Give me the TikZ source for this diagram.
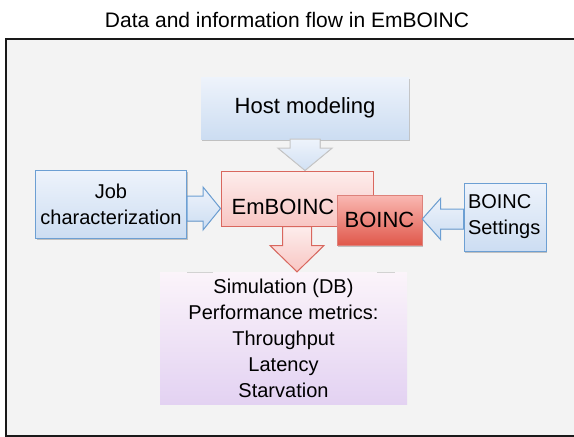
\documentclass[tikz,border=0pt]{standalone}
\usepackage{fontspec}
\setmainfont{Liberation Sans}
\usetikzlibrary{positioning, calc, shadows}
\usepackage{xcolor}

\definecolor{framebg}{HTML}{F3F3F3}
\definecolor{blueline}{HTML}{6C9FD3}
\definecolor{bluetop}{HTML}{EEF3FB}
\definecolor{bluebot}{HTML}{CCDDF2}
\definecolor{pinkline}{HTML}{D9675E}
\definecolor{pinktop}{HTML}{FDEDEC}
\definecolor{pinkbot}{HTML}{F8C6C3}
\definecolor{redtop}{HTML}{FAB9B3}
\definecolor{redbot}{HTML}{E0584B}
\definecolor{redline}{HTML}{CF4D42}
\definecolor{simtop}{HTML}{FBF4FA}
\definecolor{simbot}{HTML}{E3D2F2}

\newcommand{\flowtxt}{\fontsize{20}{26}\selectfont}
\newcommand{\flowbig}{\fontsize{22}{26}\selectfont}

\tikzset{
    softshadow/.style={drop shadow={shadow xshift=1pt, shadow yshift=-1.5pt, opacity=0.3, fill=black!70}},
    hostbox/.style={top color=bluetop, bottom color=bluebot, inner sep=0pt, softshadow},
    bluebox/.style={draw=blueline, line width=1pt, top color=bluetop, bottom color=bluebot, inner sep=0pt, softshadow},
    embox/.style={draw=pinkline, line width=1pt, top color=pinktop, bottom color=pinkbot, inner sep=0pt},
    redbox/.style={draw=redline!70, line width=0.6pt, top color=redtop, bottom color=redbot, inner sep=0pt, softshadow},
    simbox/.style={top color=simtop, bottom color=simbot, inner sep=0pt},
    bluearrow/.style={draw=blueline, line width=1pt, top color=bluetop, bottom color=bluebot},
    hostarrow/.style={draw=gray!45, line width=1pt, top color=bluetop, bottom color=bluebot!90},
    pinkarrow/.style={draw=pinkline, line width=1pt, top color=pinktop, bottom color=pinkbot},
}

\begin{document}
\begin{tikzpicture}[x=1pt, y=-1pt]
    \useasboundingbox (0,0) rectangle (574,437);

    % Title
    \node[anchor=base, font=\fontsize{21}{24}\selectfont] (title) at (287,27) {Data and information flow in EmBOINC};

    % Frame
    \filldraw[fill=framebg, draw=black!90, line width=2pt] (5.5,39) rectangle (582,435.5);

    % Boxes
    \node[hostbox, minimum width=208pt, minimum height=62pt, font=\flowbig] (host) at (305,108) {Host modeling};
    \node[bluebox, minimum width=151pt, minimum height=68pt, align=center, font=\flowtxt] (job) at (111,204) {Job\\characterization};
    \node[embox, minimum width=152pt, minimum height=55pt] (emb) at (297,198.5) {};
    \node[font=\flowbig] (embtxt) at ($(emb.center)+(-14,8.5)$) {EmBOINC};
    \node[redbox, minimum width=85pt, minimum height=50pt, font=\flowbig] (boinc) at (379.5,220) {BOINC};
    \node[bluebox, minimum width=82pt, minimum height=68pt, text width=74pt, align=left, font=\flowtxt] (set) at (505,217) {BOINC\\Settings};
    \node[simbox, minimum width=247pt, minimum height=132pt, align=center, font=\flowtxt] (sim) at (283.5,338)
        {Simulation (DB)\\Performance metrics:\\Throughput\\Latency\\Starvation};

    % faint edges on top of the results box
    \draw[gray!35, line width=1pt] (187,272) -- (213,272);
    \draw[gray!35, line width=1pt] (377,272) -- (395,272);

    % Host modeling -> EmBOINC
    \filldraw[hostarrow] ($(host.south)+(-15,0)$) -- ++(0,9) -- ++(-12,0) -- (host.south |- emb.north)
        -- ($(host.south)+(27,9)$) -- ++(-12,0) -- ($(host.south)+(15,0)$) -- cycle;

    % Job characterization -> EmBOINC
    \coordinate (ja) at ($(job.east)+(0,4.5)$);
    \filldraw[bluearrow] ($(ja)+(0,-12.5)$) -- ++(16,0) -- ++(0,-9) -- (ja -| emb.west)
        -- ($(ja)+(16,21.5)$) -- ++(0,-9) -- ($(ja)+(0,12.5)$) -- cycle;

    % BOINC Settings -> BOINC
    \coordinate (sa) at ($(set.west)+(0,2)$);
    \filldraw[bluearrow] ($(sa)+(0,-10)$) -- ++(-23,0) -- ++(0,-10.5) -- (sa -| boinc.east)
        -- ($(sa)+(-23,20.5)$) -- ++(0,-10.5) -- ($(sa)+(0,10)$) -- cycle;

    % EmBOINC -> Simulation
    \filldraw[pinkarrow] ($(emb.south)+(-14.5,0)$) -- ++(0,19) -- ++(-12.5,0) -- (emb.south |- sim.north)
        -- ($(emb.south)+(27,19)$) -- ++(-12.5,0) -- ($(emb.south)+(14.5,0)$) -- cycle;
\end{tikzpicture}
\end{document}
